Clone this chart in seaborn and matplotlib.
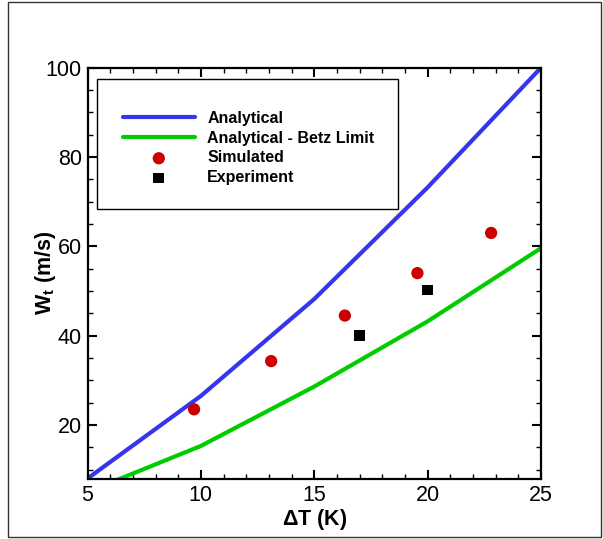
import matplotlib
matplotlib.use("Agg")
import matplotlib.pyplot as plt
import seaborn as sns
import pandas as pd
from matplotlib.patches import Rectangle
from matplotlib.ticker import MultipleLocator

# ---- data ----
dT_analytical = [5, 10, 15, 20, 25]
W_analytical = [8.0, 26.5, 48.2, 73.2, 100.0]
W_betz = [5.0, 15.3, 28.6, 43.2, 59.6]
dT_sim = [9.7, 13.1, 16.35, 19.55, 22.8]
W_sim = [23.5, 34.3, 44.5, 54.0, 63.0]
dT_exp = [17.0, 20.0]
W_exp = [40.1, 50.2]

sns.set_style("white")
plt.rcParams['font.family'] = ['Liberation Sans', 'DejaVu Sans']
plt.rcParams['mathtext.fontset'] = 'custom'
plt.rcParams['mathtext.bf'] = 'Liberation Sans:bold'
plt.rcParams['mathtext.rm'] = 'Liberation Sans'
plt.rcParams['text.color'] = 'black'
plt.rcParams['axes.labelcolor'] = 'black'
plt.rcParams['xtick.color'] = 'black'
plt.rcParams['ytick.color'] = 'black'

fig = plt.figure(figsize=(6.03, 5.39), dpi=100)
ax = fig.add_axes([87.5/603, 1-479/539, (541-87.5)/603, (479-67.7)/539])

df_a = pd.DataFrame({"x": dT_analytical, "y": W_analytical})
df_b = pd.DataFrame({"x": dT_analytical, "y": W_betz})
df_s = pd.DataFrame({"x": dT_sim, "y": W_sim})
df_e = pd.DataFrame({"x": dT_exp, "y": W_exp})

sns.lineplot(data=df_a, x="x", y="y", ax=ax, color="#3535ee", lw=3.0,
             label="Analytical")
sns.lineplot(data=df_b, x="x", y="y", ax=ax, color="#00cc00", lw=3.0,
             label="Analytical - Betz Limit")
sns.scatterplot(data=df_s, x="x", y="y", ax=ax, color="#cc0000", marker="o",
                s=78, edgecolor="none", label="Simulated", zorder=5)
sns.scatterplot(data=df_e, x="x", y="y", ax=ax, color="black", marker="s",
                s=60, edgecolor="none", label="Experiment", zorder=5)

ax.set_xlim(5, 25)
ax.set_ylim(7.9, 100)
ax.xaxis.set_major_locator(MultipleLocator(5))
ax.xaxis.set_minor_locator(MultipleLocator(1))
ax.yaxis.set_major_locator(MultipleLocator(20))
ax.yaxis.set_minor_locator(MultipleLocator(5))
ax.tick_params(which="both", direction="in", top=True, right=True,
               bottom=True, left=True, color="black", labelcolor="black")
ax.tick_params(which="major", length=6.5, width=1.5, labelsize=15.5, pad=4)
ax.tick_params(which="minor", length=3.3, width=1.0)
for sp in ax.spines.values():
    sp.set_linewidth(1.6)
    sp.set_color("black")

ax.set_xlabel(r"$\mathbf{\Delta}$T (K)", fontsize=15.5, fontweight="bold", labelpad=1)
ax.set_ylabel(r"W$_\mathbf{t}$ (m/s)", fontsize=15.5, fontweight="bold")
ax.yaxis.set_label_coords(-0.064, 0.5)

leg = ax.legend(loc="upper left", bbox_to_anchor=(0.078, 0.895), frameon=False,
                borderaxespad=0, borderpad=0, fontsize=11.5, handlelength=4.5,
                handletextpad=0.79, labelspacing=0.3, markerscale=1.0)
for t in leg.get_texts():
    t.set_fontweight("bold")

# legend frame (Tecplot-style box)
ax.add_patch(Rectangle((0.0214, 0.656), 0.684 - 0.0214, 0.972 - 0.656,
                       transform=ax.transAxes, fill=False, edgecolor="black",
                       lw=1.0, zorder=6))

# figure border
fig.add_artist(Rectangle((8/603, 2/539), (601-8)/603, (537-2)/539,
                         transform=fig.transFigure, fill=False,
                         edgecolor="#333333", lw=1.0))

fig.savefig("out.png", dpi=100)
